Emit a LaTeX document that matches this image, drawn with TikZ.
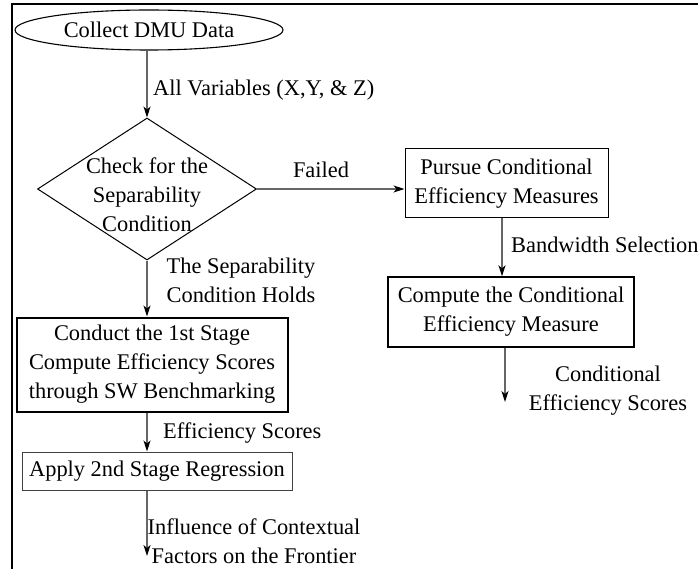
\documentclass[tikz,border=0pt]{standalone}
\usepackage{fontspec}
\setmainfont{Liberation Serif}
\usetikzlibrary{shapes.geometric,arrows.meta}
\begin{document}
\begin{tikzpicture}[x=1pt,y=-1pt,
  every node/.style={font=\fontsize{22.4}{29}\selectfont, inner sep=0pt},
  flow/.style={draw=black!60, line width=1.2pt, -{Stealth[length=11pt,width=7pt,black,inset=3pt]}},
  procbox/.style={draw, rectangle, line width=1pt},
  lbl/.style={align=center}
]
\useasboundingbox (0,0) rectangle (698,569);
% partial frame
\draw[line width=1.4pt] (12,569) -- (12,4) -- (698,4);

% nodes
\node[draw, ellipse, line width=1.1pt, minimum width=268pt, minimum height=40pt] (col) at (149,30) {Collect DMU Data};
\node[draw, diamond, line width=1pt, aspect=1.54, minimum width=219pt, minimum height=142pt] (chk) at (147,189) {};
\node[lbl] (chktxt) at (147,195) {Check for the\\Separability\\Condition};
\node[procbox, minimum width=203pt, minimum height=69pt, align=center] (pur) at (506.5,183.5) {Pursue Conditional\\Efficiency Measures};
\node[procbox, line width=1.4pt, minimum width=246pt, minimum height=70pt, align=center] (comp) at (511,312) {Compute the Conditional\\Efficiency Measure};
\node[procbox, line width=2pt, minimum width=271pt, minimum height=94pt, align=center] (s1) at (152,364.5) {Conduct the 1st Stage\\Compute Efficiency Scores\\through SW Benchmarking};
\node[procbox, draw=black!75, line width=1pt, minimum width=270pt, minimum height=38pt] (app) at (157,471) {Apply 2nd Stage Regression};

\coordinate (endc) at (505,402);
\coordinate (endf) at (147,556);

% connectors
\draw[flow] (col.south -| chk.north) -- (chk.north);
\draw[flow] (chk.east) -- (chk.east -| pur.west);
\draw[flow] (chk.south) -- (chk.south |- s1.north);
\draw[flow] (pur.south -| 502,0) -- (comp.north -| 502,0);
\draw[flow] (comp.south -| endc) -- (endc);
\draw[flow] (s1.south -| chk.south) -- (app.north -| chk.south);
\draw[flow] (app.south -| endf) -- (endf);

% connector labels
\node[anchor=west] (l1) at (153,90) {All Variables (X,Y, \& Z)};
\node (l2) at (321,170) {Failed};
\node[lbl] (l3) at (241,280) {The Separability\\Condition Holds};
\node[anchor=west] (l4) at (511,245) {Bandwidth Selection};
\node[lbl] (l5) at (608,391) {Conditional\\Efficiency Scores};
\node[anchor=west] (l6) at (163,433) {Efficiency Scores};
\node[lbl] (l7) at (254,541) {Influence of Contextual\\Factors on the Frontier};
\end{tikzpicture}
\end{document}
